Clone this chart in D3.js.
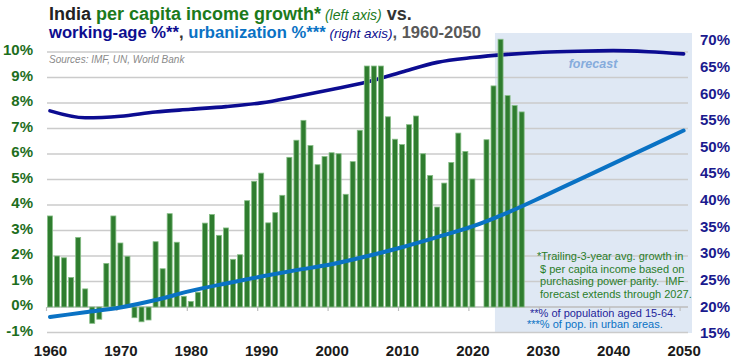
<!DOCTYPE html>
<html>
<head>
<meta charset="utf-8">
<script src="https://cdn.jsdelivr.net/npm/d3@7"></script>
<style>
  body { margin: 0; background: #fff; }
  svg { font-family: "Liberation Sans", Arial, sans-serif; }
</style>
</head>
<body>
<svg id="chart" width="734" height="363"></svg>
<script>
// per capita income growth, trailing 3-yr avg (%), one value per year from 1960
const firstYear = 1960;
const growth = [
  3.57, 2.00, 1.93, 1.16, 2.73, 0.71, -0.64, -0.48, 1.71, 3.57,
  2.51, 1.99, -0.42, -0.58, -0.51, 2.56, 1.50, 3.66, 2.54, 0.42,
  0.22, 0.58, 3.29, 3.63, 2.81, 3.10, 1.87, 2.05, 4.17, 4.93,
  5.25, 3.30, 3.70, 4.38, 5.87, 6.54, 7.32, 6.33, 5.58, 5.90,
  6.05, 6.01, 4.42, 5.70, 6.93, 9.45, 9.45, 9.45, 7.46, 6.58,
  6.37, 7.15, 7.49, 6.01, 5.16, 3.92, 4.86, 5.67, 6.82, 6.10,
  5.02, 0.00, 6.56, 8.67, 10.5, 8.29, 7.90, 7.65
];

// working-age and urban share (%), every 5 years
const popYears = [1960, 1965, 1970, 1975, 1980, 1985, 1990, 1995, 2000, 2005,
                  2010, 2015, 2020, 2025, 2030, 2035, 2040, 2045, 2050];
const workingAge = [56.7, 55.4, 55.7, 56.5, 57.0, 57.5, 58.2, 59.4, 60.7, 62.1,
                    64.0, 65.8, 66.7, 67.3, 67.7, 67.9, 68.0, 67.8, 67.4];
const urban = [18.0, 18.9, 19.8, 21.2, 22.9, 24.3, 25.6, 26.8, 27.9, 29.4,
               31.1, 33.0, 35.0, 37.6, 40.6, 43.7, 46.8, 49.9, 53.0];

const xTicks = [1960, 1970, 1980, 1990, 2000, 2010, 2020, 2030, 2040, 2050];
const leftTicks = [-1, 0, 1, 2, 3, 4, 5, 6, 7, 8, 9, 10];
const rightTicks = [15, 20, 25, 30, 35, 40, 45, 50, 55, 60, 65, 70];
const forecastFrom = 2023.2;

const svg = d3.select('#chart');

const x = d3.scaleLinear().domain([1960, 2050]).range([50, 683.6]);
const yL = d3.scaleLinear().domain([-1, 10]).range([332.5, 52]);
const yR = d3.scaleLinear().domain([15, 70]).range([333, 40]);

const plotLeft = 47, plotRight = 688;

// forecast shading
svg.append('rect')
  .attr('x', x(forecastFrom)).attr('y', 33)
  .attr('width', 692 - x(forecastFrom)).attr('height', 300)
  .attr('fill', '#dfe8f4');

svg.append('text')
  .attr('x', 593).attr('y', 68)
  .attr('text-anchor', 'middle')
  .attr('font-size', 12.5).attr('font-style', 'italic').attr('font-weight', 'bold')
  .attr('fill', '#86acdc')
  .text('forecast');

// gridlines
svg.append('g').selectAll('line')
  .data(leftTicks.filter(d => d !== 0))
  .join('line')
  .attr('x1', plotLeft).attr('x2', plotRight)
  .attr('y1', d => yL(d)).attr('y2', d => yL(d))
  .attr('stroke', '#cbcbcb').attr('stroke-width', 1.3);

// zero line + ticks
svg.append('line')
  .attr('x1', plotLeft).attr('x2', plotRight)
  .attr('y1', yL(0)).attr('y2', yL(0))
  .attr('stroke', '#bdbdbd').attr('stroke-width', 1.5);
svg.append('g').selectAll('line')
  .data(xTicks)
  .join('line')
  .attr('x1', d => x(d) - 3.5).attr('x2', d => x(d) - 3.5)
  .attr('y1', yL(0)).attr('y2', yL(0) + 4)
  .attr('stroke', '#bdbdbd').attr('stroke-width', 1.2);

const lineGen = (yScale) => d3.line()
  .x(d => x(d[0]))
  .y(d => yScale(d[1]))
  .curve(d3.curveMonotoneX);

// working-age line
svg.append('path')
  .datum(popYears.map((yr, i) => [yr, workingAge[i]]))
  .attr('d', lineGen(yR))
  .attr('fill', 'none')
  .attr('stroke', '#0c0c91')
  .attr('stroke-width', 3.6)
  .attr('stroke-linecap', 'round');

// bars
const barW = 5;
svg.append('g').selectAll('rect')
  .data(growth)
  .join('rect')
  .attr('x', (d, i) => x(firstYear + i) - barW / 2)
  .attr('y', d => yL(Math.max(0, d)))
  .attr('width', barW)
  .attr('height', d => Math.abs(yL(d) - yL(0)))
  .attr('fill', '#2f7d2f')
  .attr('stroke', '#86bd86')
  .attr('stroke-width', 0.8);

// urbanization line
svg.append('path')
  .datum(popYears.map((yr, i) => [yr, urban[i]]))
  .attr('d', lineGen(yR))
  .attr('fill', 'none')
  .attr('stroke', '#0a72c4')
  .attr('stroke-width', 4)
  .attr('stroke-linecap', 'round');

// axes
const leftAxis = svg.append('g')
  .attr('transform', `translate(${plotLeft},-2)`)
  .call(d3.axisLeft(yL).tickValues(leftTicks).tickFormat(d => d + '%').tickSize(0).tickPadding(14));
leftAxis.select('.domain').remove();
leftAxis.selectAll('text')
  .attr('font-family', '"Liberation Sans", Arial, sans-serif')
  .attr('font-size', 15).attr('font-weight', 'bold').attr('fill', '#1d6e1d');

const rightAxis = svg.append('g')
  .attr('transform', 'translate(700,0)')
  .call(d3.axisRight(yR).tickValues(rightTicks).tickFormat(d => d + '%').tickSize(0).tickPadding(0));
rightAxis.select('.domain').remove();
rightAxis.selectAll('text')
  .attr('font-family', '"Liberation Sans", Arial, sans-serif')
  .attr('font-size', 15).attr('font-weight', 'bold').attr('fill', '#1a1a8e');

const bottomAxis = svg.append('g')
  .attr('transform', `translate(0,${yL(0)})`)
  .call(d3.axisBottom(x).tickValues(xTicks).tickFormat(d3.format('d')).tickSize(0).tickPadding(38));
bottomAxis.select('.domain').remove();
bottomAxis.selectAll('text')
  .attr('font-family', '"Liberation Sans", Arial, sans-serif')
  .attr('font-size', 15).attr('font-weight', 'bold').attr('fill', '#1a1a1a');

// title
const t1 = svg.append('text').attr('x', 49).attr('y', 20)
  .attr('font-size', 18).attr('font-weight', 'bold');
t1.append('tspan').attr('fill', '#222').text('India');
t1.append('tspan').attr('fill', '#1c7a1c').text(' per capita income growth*');
t1.append('tspan').attr('fill', '#1c7a1c').attr('font-weight', 'normal')
  .attr('font-style', 'italic').attr('font-size', 14).text(' (left axis)');
t1.append('tspan').attr('fill', '#333').text(' vs.');

const t2 = svg.append('text').attr('x', 49).attr('y', 38)
  .attr('font-size', 16.6).attr('font-weight', 'bold');
t2.append('tspan').attr('fill', '#0d0d8f').text('working-age %**');
t2.append('tspan').attr('fill', '#333').text(', ');
t2.append('tspan').attr('fill', '#0a72c4').text('urbanization %***');
t2.append('tspan').attr('fill', '#0d0d8f').attr('font-weight', 'normal')
  .attr('font-style', 'italic').attr('font-size', 13.5).text(' (right axis)');
t2.append('tspan').attr('fill', '#595959').text(', 1960-2050');

svg.append('text')
  .attr('x', 49).attr('y', 63)
  .attr('font-size', 10).attr('font-style', 'italic').attr('fill', '#8a8a8a')
  .text('Sources: IMF, UN, World Bank');

// footnotes
const noteGreen = [
  '*Trailing-3-year avg. growth in',
  ' $ per capita income based on',
  ' purchasing power parity.  IMF',
  ' forecast extends through 2027.'
];
svg.append('g').selectAll('text')
  .data(noteGreen)
  .join('text')
  .attr('x', 537).attr('y', (d, i) => 260 + i * 12.5)
  .attr('font-size', 11).attr('fill', '#2a7d2a')
  .attr('xml:space', 'preserve')
  .text(d => d);

svg.append('text')
  .attr('x', 530).attr('y', 316.5)
  .attr('font-size', 11).attr('fill', '#1f1f9a')
  .text('**% of population aged 15-64.');
svg.append('text')
  .attr('x', 527).attr('y', 327.5)
  .attr('font-size', 11).attr('fill', '#0a72c4')
  .text('***% of pop. in urban areas.');
</script>
</body>
</html>
